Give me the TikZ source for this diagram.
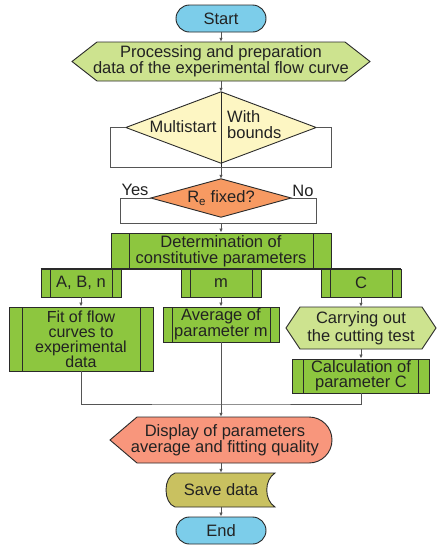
\documentclass[tikz,border=0pt]{standalone}
\usepackage{fontspec}
\setmainfont{Liberation Sans}
\usetikzlibrary{arrows.meta,backgrounds,calc}
\definecolor{termblue}{HTML}{7CCDEA}
\definecolor{hexgreen}{HTML}{CDE38F}
\definecolor{diayellow}{HTML}{FDF6C3}
\definecolor{reorange}{HTML}{F79A62}
\definecolor{boxgreen}{HTML}{8DC63F}
\definecolor{dispred}{HTML}{F8967C}
\definecolor{saveolive}{HTML}{C9C160}
\definecolor{edge}{HTML}{2A2A2A}
\definecolor{wire}{HTML}{555555}
\definecolor{ink}{HTML}{222222}
\begin{document}
\begin{tikzpicture}[x=1pt,y=-1pt,
  txt/.style={inner sep=0pt, align=center, font=\fontsize{16.5}{16}\selectfont, text=ink},
  shapeline/.style={draw=edge, line width=0.9pt},
  term/.style={txt, shapeline, fill=termblue, rounded corners=13.5pt, minimum width=90pt, minimum height=27pt},
  barbox/.style={txt, shapeline, fill=boxgreen, path picture={
     \draw[edge, line width=0.9pt] ([xshift=#1]path picture bounding box.north west) -- ([xshift=#1]path picture bounding box.south west);
     \draw[edge, line width=0.9pt] ([xshift=-#1]path picture bounding box.north east) -- ([xshift=-#1]path picture bounding box.south east);}},
  wireline/.style={draw=wire, line width=0.8pt},
  arr/.style={wireline, -{Latex[length=4pt,width=3.5pt]}},
]
\useasboundingbox (0,0) rectangle (442,550);

% terminals
\node[term] (start) at (221,18.5) {Start};
\node[term] (stop) at (221,530.5) {End};

% processing hexagon
\node[txt, minimum width=298pt, minimum height=39pt] (proc) at (221,61.5) {Processing and preparation\\data of the experimental flow curve};

% multistart diamond
\node[minimum width=190pt, minimum height=71pt, inner sep=0pt] (multi) at (221,127.5) {};
\node[txt] (mleft) at (183,127) {Multistart};
\node[txt, align=left, anchor=west] (mright) at (227,125) {With\\bounds};
\coordinate (mout) at (221,167);
\coordinate (mbl) at (110,167);
\coordinate (mbr) at (331,167);

% Re diamond
\node[txt, minimum width=140pt, minimum height=38pt] (re) at (221,198) {R\textsubscript{e} fixed?};
\node[txt] (yes) at (135,190) {Yes};
\node[txt] (no) at (303,191) {No};
\coordinate (rout) at (221,223);
\coordinate (rbl) at (120,223);
\coordinate (rbr) at (316,223);

% determination
\node[barbox=18pt, minimum width=220pt, minimum height=36pt] (det) at (221,251) {Determination of\\constitutive parameters};
\node[barbox=9pt, minimum width=80pt, minimum height=28pt] (abn) at (81,283) {A, B, n};
\node[barbox=9pt, minimum width=80pt, minimum height=28pt] (pm) at (221,283) {m};
\node[barbox=9pt, minimum width=80pt, minimum height=28pt] (pc) at (361,283) {C};
\draw[shapeline] (abn.north west) -- (pc.north east);

% second row
\node[barbox=13pt, minimum width=144pt, minimum height=64pt, font=\fontsize{16}{15}\selectfont] (fit) at (81,339) {Fit of flow\\curves to\\experimental\\data};
\node[barbox=9pt, minimum width=116pt, minimum height=35pt] (avg) at (221,324.5) {Average of\\parameter m};
\node[txt, minimum width=150pt, minimum height=42pt, font=\fontsize{16.5}{18}\selectfont] (carry) at (361,328) {Carrying out\\the cutting test};
\node[barbox=11pt, minimum width=137pt, minimum height=34pt, font=\fontsize{16.5}{15}\selectfont] (calc) at (361,376) {Calculation of\\parameter C};
\coordinate (mg) at (221,404);

% display and save
\node[txt, minimum width=222pt, minimum height=46pt] (disp) at (221,440) {\hspace*{8pt}Display of parameters\\\hspace*{8pt}average and fitting quality};
\node[txt, minimum width=109pt, minimum height=34pt] (save) at (221,490) {Save data};

\begin{scope}[on background layer]
  \fill[white] (0,0) rectangle (442,550);
  \path[shapeline, fill=hexgreen] (72,61.5) -- (97,42) -- (345,42) -- (370,61.5) -- (345,81) -- (97,81) -- cycle;
  \path[shapeline, fill=diayellow] (multi.north) -- (multi.east) -- (multi.south) -- (multi.west) -- cycle;
  \path[shapeline, fill=reorange] (re.north) -- (re.east) -- (re.south) -- (re.west) -- cycle;
  \path[shapeline, fill=hexgreen] (286,328) -- (300,307) -- (422,307) -- (436,328) -- (422,349) -- (300,349) -- cycle;
  \path[shapeline, fill=dispred] (110,440) -- (137,417) -- (309,417) .. controls (321.7,417) and (332,427.3) .. (332,440) .. controls (332,452.7) and (321.7,463) .. (309,463) -- (137,463) -- cycle;
  \path[shapeline, fill=saveolive] (175,473) -- (275,473) .. controls (264,480) and (264,500) .. (275,507) -- (175,507) .. controls (163,503) and (163,477) .. (175,473) -- cycle;
\end{scope}

% connectors
\draw[arr] (start) -- (proc);
\draw[arr] (proc) -- (multi.north);
\draw[shapeline] (multi.north) -- (mout);
\draw[wireline] (multi.west) -| (mbl) -- (mbr) |- (multi.east);
\draw[arr] (mout) -- (re.north);
\draw[wireline] (re.west) -| (rbl) -- (rbr) |- (re.east);
\draw[arr] (rout) -- (det.north);
\draw[arr] (abn) -- (fit);
\draw[arr] (pm) -- (avg);
\draw[arr] (pc) -- (carry);
\draw[arr] (carry) -- (calc);
\draw[wireline] (fit.south) |- (mg) -| (calc.south);
\draw[arr] (avg) -- (disp);
\draw[arr] (disp) -- (save);
\draw[arr] (save) -- (stop);
\end{tikzpicture}
\end{document}
